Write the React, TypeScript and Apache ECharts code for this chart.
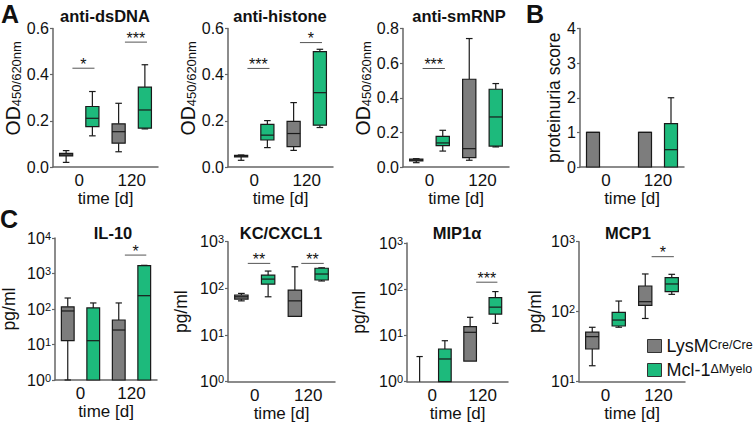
import React, { useEffect, useRef } from "react";
import * as echarts from "echarts";

// ---------- data: five-number summaries [min, q1, median, q3, max] per time point (0 d, 120 d) ----------
const timeLabels = ["0", "120"];

const dsDNA_LysM = [[0.02, 0.048, 0.052, 0.059, 0.071], [0.066, 0.103, 0.153, 0.187, 0.276]];
const dsDNA_Mcl1 = [[0.135, 0.175, 0.211, 0.262, 0.327], [0.165, 0.168, 0.247, 0.346, 0.443]];
const dsDNA_sig = [{ t: 0, y: 0.428, label: "*" }, { t: 1, y: 0.541, label: "***" }];

const histone_LysM = [[0.029, 0.044, 0.047, 0.05, 0.052], [0.072, 0.088, 0.145, 0.198, 0.279]];
const histone_Mcl1 = [[0.084, 0.117, 0.138, 0.185, 0.201], [0.171, 0.181, 0.322, 0.5, 0.51]];
const histone_sig = [{ t: 0, y: 0.427, label: "***" }, { t: 1, y: 0.539, label: "*" }];

const smRNP_LysM = [[0.025, 0.035, 0.04, 0.045, 0.048], [0.039, 0.054, 0.106, 0.507, 0.742]];
const smRNP_Mcl1 = [[0.092, 0.123, 0.139, 0.177, 0.212], [0.116, 0.121, 0.289, 0.449, 0.482]];
const smRNP_sig = [{ t: 0, y: 0.569, label: "***" }];

const prot_LysM = [[0, 0, 1, 1, 1], [0, 0, 1, 1, 1]];
const prot_Mcl1 = [[0, 0, 0, 0, 0], [0, 0, 0.5, 1.25, 2]];
const prot_sig: { t: number; y: number; label: string }[] = [];

const il10_LysM = [[1, 12.8, 88, 115, 204], [1, 1, 25.6, 49, 148]];
const il10_Mcl1 = [[1, 1, 12.8, 107, 148], [1, 1, 237, 1660, 1700]];
const il10_sig = [{ t: 1, y: 3300, label: "*" }];

const kc_LysM = [[54, 59, 66, 72, 78], [25, 25, 54, 92, 290]];
const kc_Mcl1 = [[66, 123, 158, 192, 235], [144, 151, 203, 270, 276]];
const kc_sig = [{ t: 0, y: 343, label: "**" }, { t: 1, y: 343, label: "**" }];

const mip_LysM = [[1, 1, 1, 1, 3.5], [2.8, 2.8, 11.7, 15.5, 24.7]];
const mip_Mcl1 = [[1, 1, 3.1, 5.1, 7.7], [18.3, 29, 41, 66, 89]];
const mip_sig = [{ t: 1, y: 142, label: "***" }];

const mcp_LysM = [[16.9, 29.3, 44, 51, 59.9], [80, 123, 139, 233, 346]];
const mcp_Mcl1 = [[60, 62.5, 76, 98, 142], [177, 193, 249, 306, 342]];
const mcp_sig = [{ t: 1, y: 611, label: "*" }];

const seriesNames = ["LysM", "Mcl-1"];

// ---------- styles / layout ----------
const FONT = "Liberation Sans, Arial, Helvetica, sans-serif";
const GRAY = "#7d7d7d";
const GREEN = "#1dba7c";
const AXIS = "#666666";
const INK = "#111111";

type Panel = {
  title?: string;
  titleX?: number;
  titleY?: number;
  grid: { left: number; top: number; width: number; height: number };
  yType: "value" | "log";
  yMin: number;
  yMax: number;
  yInterval?: number;
  yName: string;
  yNameGap: number;
  yNamePad?: number;
  yDecimals?: number;
  lys: number[][];
  mcl: number[][];
  sig: { t: number; y: number; label: string }[];
};

const OD = "{a|OD}{b|450/620nm}";

const panels: Panel[] = [
  { title: "anti-dsDNA", titleX: 105, titleY: 7, grid: { left: 53, top: 28.5, width: 105, height: 138.5 }, yType: "value", yMin: 0, yMax: 0.6, yInterval: 0.2, yName: OD, yNameGap: 27, yNamePad: 19, yDecimals: 1, lys: dsDNA_LysM, mcl: dsDNA_Mcl1, sig: dsDNA_sig },
  { title: "anti-histone", titleX: 280, titleY: 7, grid: { left: 228, top: 28.5, width: 105, height: 138.5 }, yType: "value", yMin: 0, yMax: 0.6, yInterval: 0.2, yName: OD, yNameGap: 27, yNamePad: 19, yDecimals: 1, lys: histone_LysM, mcl: histone_Mcl1, sig: histone_sig },
  { title: "anti-smRNP", titleX: 459, titleY: 7, grid: { left: 403, top: 28.5, width: 106, height: 138.5 }, yType: "value", yMin: 0, yMax: 0.8, yInterval: 0.2, yName: OD, yNameGap: 25, yNamePad: 19, yDecimals: 1, lys: smRNP_LysM, mcl: smRNP_Mcl1, sig: smRNP_sig },
  { grid: { left: 580, top: 28.5, width: 104, height: 138.5 }, yType: "value", yMin: 0, yMax: 4, yInterval: 1, yName: "proteinuria score", yNameGap: 12, yDecimals: 0, lys: prot_LysM, mcl: prot_Mcl1, sig: prot_sig },
  { title: "IL-10", titleX: 113, titleY: 224, grid: { left: 55, top: 238, width: 102, height: 142 }, yType: "log", yMin: 1, yMax: 10000, yName: "pg/ml", yNameGap: 37, lys: il10_LysM, mcl: il10_Mcl1, sig: il10_sig },
  { title: "KC/CXCL1", titleX: 281, titleY: 224, grid: { left: 228, top: 241.7, width: 107, height: 140 }, yType: "log", yMin: 1, yMax: 1000, yName: "pg/ml", yNameGap: 38, lys: kc_LysM, mcl: kc_Mcl1, sig: kc_sig },
  { title: "MIP1α", titleX: 457, titleY: 224, grid: { left: 407, top: 243, width: 101, height: 138.7 }, yType: "log", yMin: 1, yMax: 1000, yName: "pg/ml", yNameGap: 39, lys: mip_LysM, mcl: mip_Mcl1, sig: mip_sig },
  { title: "MCP1", titleX: 628, titleY: 224, grid: { left: 579, top: 241.7, width: 106, height: 140 }, yType: "log", yMin: 10, yMax: 1000, yName: "pg/ml", yNameGap: 35, lys: mcp_LysM, mcl: mcp_Mcl1, sig: mcp_sig },
];

function boxRenderer(fill: string, side: number) {
  return (params: any, api: any) => {
    const cat = api.value(0);
    const bw = api.size([1, 0])[0];
    const w = bw * 0.25;
    const cx = api.coord([cat, api.value(3)])[0] + side * bw * 0.25;
    const y = (i: number) => api.coord([cat, api.value(i)])[1];
    const yMin = y(1), yQ1 = y(2), yMed = y(3), yQ3 = y(4), yMax = y(5);
    const stroke = { stroke: "#1a1a1a", lineWidth: 1.2, fill: null };
    const cap = w * 0.5;
    const children: any[] = [];
    if (yQ3 - yMax > 0.3) {
      children.push({ type: "line", shape: { x1: cx, y1: yQ3, x2: cx, y2: yMax }, style: stroke });
      children.push({ type: "line", shape: { x1: cx - cap / 2, y1: yMax, x2: cx + cap / 2, y2: yMax }, style: stroke });
    }
    if (yMin - yQ1 > 0.3) {
      children.push({ type: "line", shape: { x1: cx, y1: yQ1, x2: cx, y2: yMin }, style: stroke });
      children.push({ type: "line", shape: { x1: cx - cap / 2, y1: yMin, x2: cx + cap / 2, y2: yMin }, style: stroke });
    }
    if (yQ1 - yQ3 > 0.3) {
      children.push({ type: "rect", shape: { x: cx - w / 2, y: yQ3, width: w, height: yQ1 - yQ3 }, style: { fill, stroke: "#1a1a1a", lineWidth: 1.2 } });
      children.push({ type: "line", shape: { x1: cx - w / 2, y1: yMed, x2: cx + w / 2, y2: yMed }, style: stroke });
    }
    return { type: "group", children };
  };
}

function sigRenderer(sig: { label: string }[]) {
  return (params: any, api: any) => {
    const c = api.coord([api.value(0), api.value(1)]);
    const bw = api.size([1, 0])[0];
    const cx = c[0] + bw * 0.08;
    const hw = bw * 0.21;
    return {
      type: "group",
      children: [
        { type: "line", shape: { x1: cx - hw, y1: c[1], x2: cx + hw, y2: c[1] }, style: { stroke: "#555", lineWidth: 1 } },
        { type: "text", x: cx, y: c[1] + 4, style: { text: sig[params.dataIndex].label, fontSize: 16, fontFamily: FONT, fill: INK, align: "center", verticalAlign: "bottom" } },
      ],
    };
  };
}

function buildOption() {
  const grid: any[] = [];
  const xAxis: any[] = [];
  const yAxis: any[] = [];
  const series: any[] = [];
  const graphic: any[] = [];

  panels.forEach((p, i) => {
    grid.push({ ...p.grid, outerBoundsMode: "none", containLabel: false });
    xAxis.push({
      gridIndex: i,
      type: "category",
      data: timeLabels,
      boundaryGap: true,
      axisLine: { show: true, lineStyle: { color: AXIS, width: 1.5 } },
      axisTick: { show: false },
      axisLabel: { fontSize: 17, color: INK, margin: 5, fontFamily: FONT },
      splitLine: { show: false },
      name: "time [d]",
      nameLocation: "middle",
      nameGap: 22,
      nameTextStyle: { fontSize: 17, color: INK, fontFamily: FONT },
    });
    const isLog = p.yType === "log";
    yAxis.push({
      gridIndex: i,
      type: p.yType,
      min: p.yMin,
      max: p.yMax,
      ...(isLog ? { logBase: 10 } : { interval: p.yInterval }),
      axisLine: { show: true, lineStyle: { color: AXIS, width: 1.5 } },
      axisTick: { show: true, length: 3, lineStyle: { color: AXIS, width: 1.2 } },
      splitLine: { show: false },
      axisLabel: {
        fontFamily: FONT,
        fontSize: 16,
        color: INK,
        margin: 4,
        formatter: isLog
          ? (v: number) => `{n|10}{s|${Math.round(Math.log10(v))}}`
          : (v: number) => v.toFixed(p.yDecimals ?? 0),
        rich: {
          n: { fontSize: 16, color: INK, fontFamily: FONT },
          s: { fontSize: 11, color: INK, fontFamily: FONT, verticalAlign: "top" },
        },
      },
      name: p.yName,
      nameLocation: "middle",
      nameRotate: 90,
      nameGap: p.yNameGap,
      nameTextStyle: {
        fontSize: 17.5,
        color: INK,
        fontFamily: FONT,
        padding: [0, 0, 0, p.yNamePad ?? 0],
        rich: {
          a: { fontSize: 19.5, color: INK, fontFamily: FONT },
          b: { fontSize: 13, color: INK, fontFamily: FONT, verticalAlign: "bottom" },
        },
      },
    });
    series.push({
      type: "custom",
      name: seriesNames[0],
      xAxisIndex: i,
      yAxisIndex: i,
      silent: true,
      itemStyle: { color: GRAY },
      data: p.lys.map((d, k) => [k, ...d]),
      renderItem: boxRenderer(GRAY, -1),
      z: 3,
    });
    series.push({
      type: "custom",
      name: seriesNames[1],
      xAxisIndex: i,
      yAxisIndex: i,
      silent: true,
      itemStyle: { color: GREEN },
      data: p.mcl.map((d, k) => [k, ...d]),
      renderItem: boxRenderer(GREEN, 1),
      z: 3,
    });
    if (p.sig.length) {
      series.push({
        type: "custom",
        name: "sig" + i,
        xAxisIndex: i,
        yAxisIndex: i,
        silent: true,
        data: p.sig.map((s) => [s.t, s.y]),
        renderItem: sigRenderer(p.sig),
        z: 4,
      });
    }
    if (p.title) {
      graphic.push({
        type: "text",
        x: p.titleX,
        y: p.titleY,
        style: { text: p.title, fontSize: 16.5, fontWeight: "bold", fontFamily: FONT, fill: INK, align: "center", verticalAlign: "top" },
      });
    }
  });

  const letters = [
    { t: "A", x: 1, y: 1 },
    { t: "B", x: 526, y: 1 },
    { t: "C", x: 0, y: 206 },
  ];
  letters.forEach((l) =>
    graphic.push({
      type: "text",
      x: l.x,
      y: l.y,
      style: { text: l.t, fontSize: 25, fontWeight: "bold", fontFamily: FONT, fill: INK, align: "left", verticalAlign: "top" },
    })
  );

  return {
    animation: false,
    backgroundColor: "#ffffff",
    textStyle: { fontFamily: FONT },
    grid,
    xAxis,
    yAxis,
    series,
    graphic,
    legend: {
      orient: "vertical",
      left: 647,
      top: 337,
      padding: 0,
      itemWidth: 14,
      itemHeight: 13,
      itemGap: 6,
      selectedMode: false,
      icon: "rect",
      data: [
        { name: seriesNames[0], icon: "rect", itemStyle: { color: GRAY, borderColor: "#333", borderWidth: 1 } },
        { name: seriesNames[1], icon: "rect", itemStyle: { color: GREEN, borderColor: "#333", borderWidth: 1 } },
      ],
      formatter: (n: string) => (n === "LysM" ? "{m|LysM}{s|Cre/Cre}" : "{m|Mcl-1}{s|ΔMyelo}"),
      textStyle: {
        rich: {
          m: { fontSize: 18, color: INK, fontFamily: FONT, lineHeight: 15 },
          s: { fontSize: 12.5, color: INK, fontFamily: FONT, verticalAlign: "top", lineHeight: 15 },
        },
      },
    },
  };
}

export default function App() {
  const ref = useRef<HTMLDivElement>(null);
  useEffect(() => {
    if (!ref.current) return;
    const chart = echarts.init(ref.current, undefined, { renderer: "svg" });
    chart.setOption(buildOption() as any);
    return () => chart.dispose();
  }, []);
  return (
    <div
      ref={ref}
      style={{ position: "fixed", left: 0, top: 0, width: 754, height: 425, background: "#fff" }}
    />
  );
}
